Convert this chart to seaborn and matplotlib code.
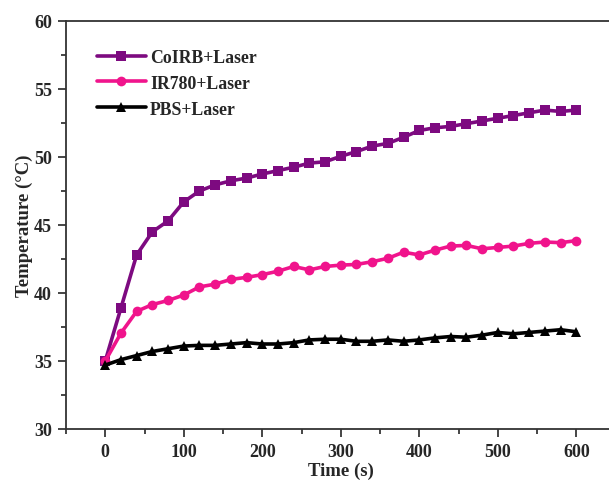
import numpy as np
import pandas as pd
import matplotlib
matplotlib.use("Agg")
import matplotlib.pyplot as plt
import seaborn as sns
from matplotlib.ticker import MultipleLocator

time_s = list(range(0, 601, 20))
coirb = [35.0, 38.9, 42.8, 44.5, 45.3, 46.7, 47.5, 47.95, 48.25, 48.45, 48.75, 49.0,
         49.25, 49.55, 49.65, 50.05, 50.4, 50.8, 51.0, 51.45, 51.95, 52.15, 52.25,
         52.45, 52.65, 52.85, 53.05, 53.25, 53.45, 53.35, 53.45]
ir780 = [35.0, 37.05, 38.65, 39.15, 39.45, 39.85, 40.45, 40.65, 41.0, 41.15, 41.35,
         41.6, 41.95, 41.7, 41.95, 42.05, 42.1, 42.3, 42.55, 43.0, 42.8, 43.15, 43.45,
         43.5, 43.25, 43.35, 43.45, 43.65, 43.75, 43.7, 43.85]
pbs = [34.7, 35.1, 35.4, 35.7, 35.9, 36.1, 36.15, 36.15, 36.25, 36.35, 36.25, 36.25,
       36.35, 36.55, 36.6, 36.6, 36.45, 36.45, 36.55, 36.45, 36.55, 36.7, 36.8, 36.75,
       36.9, 37.1, 37.0, 37.1, 37.2, 37.3, 37.15]
labels = ["CoIRB+Laser", "IR780+Laser", "PBS+Laser"]
colors = ["#7D0A80", "#F0148C", "#000000"]
markers = ["s", "o", "^"]

sns.set_style("ticks")
plt.rcParams['font.family'] = ['Liberation Serif', 'DejaVu Serif']
plt.rcParams['font.weight'] = 'bold'

fig = plt.figure(figsize=(6.09, 4.81), dpi=100)
ax = fig.add_axes([66/609, 51/481, 549.5/609, 408/481])

for lab, vals, col, mk in zip(labels, [coirb, ir780, pbs], colors, markers):
    df = pd.DataFrame({"t": time_s, "v": vals})
    sns.lineplot(data=df, x="t", y="v", ax=ax, color=col, marker=mk,
                 markersize=7, markeredgewidth=0, linewidth=2.6, label=lab)

ax.set_xlim(-50, 650)
ax.set_ylim(30, 60)
ax.xaxis.set_major_locator(MultipleLocator(100))
ax.xaxis.set_minor_locator(MultipleLocator(50))
ax.yaxis.set_major_locator(MultipleLocator(5))
ax.yaxis.set_minor_locator(MultipleLocator(2.5))
ax.tick_params(which='major', direction='out', length=6, width=1.2, labelsize=13, pad=4)
ax.tick_params(which='minor', direction='out', length=3.5, width=1.2)
for lbl in ax.get_xticklabels() + ax.get_yticklabels():
    lbl.set_fontweight('bold')
for s in ax.spines.values():
    s.set_linewidth(1.3)
    s.set_color("#333333")

ax.set_xlabel("Time (s)", fontsize=13.5, fontweight='bold', labelpad=1)
ax.set_ylabel("Temperature (\u00b0C)", fontsize=13.5, fontweight='bold', labelpad=1)

leg = ax.legend(loc='upper left', bbox_to_anchor=(0.027, 0.971), frameon=False,
                handlelength=2.75, handletextpad=0.25, labelspacing=0.5,
                prop={'family': 'Liberation Serif', 'weight': 'bold', 'size': 12.8})

fig.savefig("out.png", dpi=100)
